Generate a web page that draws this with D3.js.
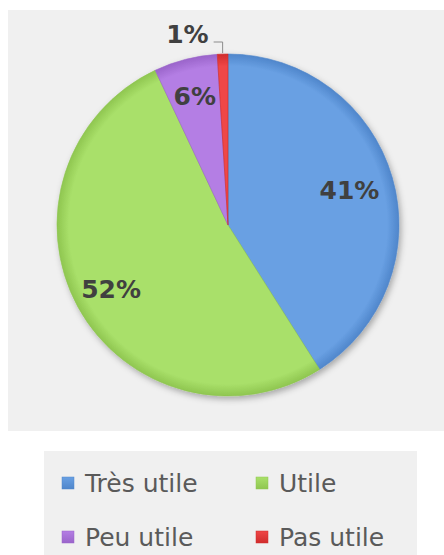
<!DOCTYPE html>
<html><head><meta charset="utf-8">
<script src="https://cdn.jsdelivr.net/npm/d3@7"></script>
<style>html,body{margin:0;padding:0;background:#fff;}svg{display:block;}</style>
</head><body>
<script>
const categories = ["Très utile", "Utile", "Peu utile", "Pas utile"];
const values = [41, 52, 6, 1];
const labels = ["41%", "52%", "6%", "1%"];
const colors = ["#69a0e3", "#a9e06a", "#b47ee4", "#ef4646"];
const darks  = ["#4f86cb", "#8fc650", "#9a64ca", "#d02c2c"];

const W = 444, H = 555;
const svg = d3.select("body").append("svg").attr("width", W).attr("height", H);
const defs = svg.append("defs");

const f = defs.append("filter").attr("id","sh").attr("x","-20%").attr("y","-20%").attr("width","140%").attr("height","140%");
f.append("feDropShadow").attr("dx",2).attr("dy",3).attr("stdDeviation",3).attr("flood-color","#000").attr("flood-opacity",0.3);

categories.forEach((c,i)=>{
  const g = defs.append("radialGradient").attr("id","g"+i).attr("gradientUnits","userSpaceOnUse")
    .attr("cx",0).attr("cy",0).attr("r",171);
  g.append("stop").attr("offset","0.93").attr("stop-color",colors[i]);
  g.append("stop").attr("offset","1").attr("stop-color",darks[i]);
});

// chart area background
svg.append("rect").attr("x",8).attr("y",10).attr("width",436).attr("height",421).attr("fill","#f0f0f0");

const cx = 228, cy = 225, R = 171;
const pie = d3.pie().sort(null).value(d=>d)(values);
const arc = d3.arc().innerRadius(0).outerRadius(R);
const gp = svg.append("g").attr("transform",`translate(${cx},${cy})`);
gp.append("g").attr("filter","url(#sh)").selectAll("path").data(pie).join("path")
  .attr("d",arc).attr("fill",(d,i)=>`url(#g${i})`)
  .attr("stroke",(d,i)=>darks[i]).attr("stroke-width",0.6);

const labelFont = "'DejaVu Sans', sans-serif";
const radFactor = [0.74, 0.78, 0.78];
pie.forEach((d,i)=>{
  if (i === 3) return;
  const rr = R*radFactor[i];
  const c = d3.arc().innerRadius(rr).outerRadius(rr).centroid(d);
  gp.append("text").attr("x",c[0]).attr("y",c[1]).attr("dy","0.36em")
    .attr("text-anchor","middle").attr("font-family",labelFont).attr("font-weight","bold")
    .attr("font-size",25).attr("fill","#404040").text(labels[i]);
});
// small slice label with leader
{
  const d = pie[3];
  const p = d3.arc().innerRadius(R).outerRadius(R).centroid(d);
  const ly0 = -R - 12;
  gp.append("path").attr("d",`M${p[0]},${p[1]-1} L${p[0]},${ly0} L${p[0]-9},${ly0}`)
    .attr("fill","none").attr("stroke","#8c8c8c").attr("stroke-width",1);
  gp.append("text").attr("x",p[0]-14).attr("y",ly0+1).attr("text-anchor","end")
    .attr("font-family",labelFont).attr("font-weight","bold").attr("font-size",25)
    .attr("fill","#404040").text(labels[3]);
}

// legend
svg.append("rect").attr("x",44).attr("y",451).attr("width",373).attr("height",104).attr("fill","#f0f0f0");
const lx = [62, 256], ly = [483, 537];
categories.forEach((c,i)=>{
  const x = lx[i%2], y = ly[Math.floor(i/2)];
  const gg = defs.append("linearGradient").attr("id","lg"+i).attr("x1",0).attr("y1",0).attr("x2",0).attr("y2",1);
  gg.append("stop").attr("offset",0).attr("stop-color",colors[i]);
  gg.append("stop").attr("offset",1).attr("stop-color",darks[i]);
  svg.append("rect").attr("x",x).attr("y",y-6).attr("width",12).attr("height",12)
    .attr("fill",`url(#lg${i})`).attr("stroke",darks[i]).attr("stroke-width",0.5);
  svg.append("text").attr("x",x+23).attr("y",y).attr("dy","0.36em")
    .attr("font-family",labelFont).attr("font-size",25).attr("fill","#5a5a5a").text(c);
});
</script>
</body></html>
